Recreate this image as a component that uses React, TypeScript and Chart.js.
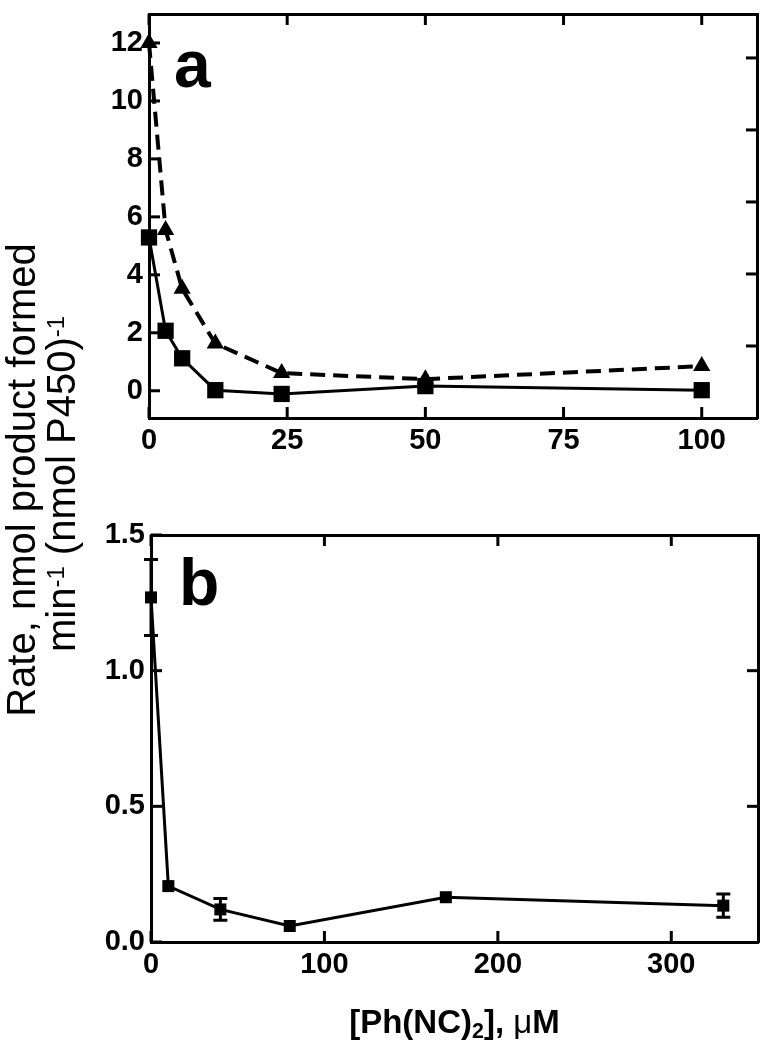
import React, { useEffect, useRef } from "react";
import { Chart, registerables } from "chart.js";

Chart.register(...registerables);

// ---------- Panel a data ----------
const X_A = [0, 3, 6, 12, 24, 50, 100];
const SQUARES_A = [5.29, 2.07, 1.12, 0.02, -0.11, 0.16, 0.02];
const TRIANGLES_A = [12.0, 5.55, 3.52, 1.63, 0.61, 0.4, 0.85];
const X_TICKS_A = [0, 25, 50, 75, 100];
const Y_TICKS_A = [0, 2, 4, 6, 8, 10, 12];
const RIGHT_TICKS_A = [1, 2, 3, 4, 5];

// ---------- Panel b data ----------
const X_B = [0, 10, 40, 80, 170, 330];
const Y_B = [1.27, 0.206, 0.12, 0.059, 0.165, 0.134];
const ERR_B = [0.14, 0, 0.04, 0, 0, 0.043];
const X_TICKS_B = [0, 100, 200, 300];
const Y_TICKS_B = [0, 0.5, 1.0, 1.5];
const RIGHT_TICKS_B = [0.5, 1.0];

const FONT_FAMILY = '"Liberation Sans", Arial, Helvetica, sans-serif';
const TICK_FONT = { family: FONT_FAMILY, size: 29, weight: "bold" as const };

const innerTicks = {
  id: "innerTicks",
  afterDraw(chart: any) {
    const { ctx, chartArea } = chart;
    const len = 11;
    ctx.save();
    ctx.strokeStyle = "#000";
    ctx.lineWidth = 3;
    ctx.lineCap = "butt";
    Object.values(chart.scales).forEach((s: any) => {
      s.ticks.forEach((t: any) => {
        const p = s.getPixelForValue(t.value);
        ctx.beginPath();
        if (s.position === "left") {
          ctx.moveTo(chartArea.left, p);
          ctx.lineTo(chartArea.left + len, p);
        } else if (s.position === "right") {
          ctx.moveTo(chartArea.right, p);
          ctx.lineTo(chartArea.right - len, p);
        } else if (s.position === "bottom") {
          ctx.moveTo(p, chartArea.bottom);
          ctx.lineTo(p, chartArea.bottom - len);
        } else if (s.position === "top") {
          ctx.moveTo(p, chartArea.top);
          ctx.lineTo(p, chartArea.top + len);
        }
        ctx.stroke();
      });
    });
    ctx.restore();
  },
};

const errorBars = {
  id: "errorBars",
  afterDatasetsDraw(chart: any) {
    const ctx = chart.ctx;
    ctx.save();
    ctx.strokeStyle = "#000";
    ctx.lineWidth = 3;
    chart.data.datasets.forEach((ds: any, i: number) => {
      const errs = ds.errorBars;
      if (!errs) return;
      const meta = chart.getDatasetMeta(i);
      const ys = chart.scales[meta.yAxisID];
      meta.data.forEach((pt: any, j: number) => {
        const e = errs[j];
        if (!e) return;
        const v = ds.data[j].y;
        const top = ys.getPixelForValue(v + e);
        const bot = ys.getPixelForValue(v - e);
        const cap = 7;
        ctx.beginPath();
        ctx.moveTo(pt.x, top);
        ctx.lineTo(pt.x, bot);
        ctx.moveTo(pt.x - cap, top);
        ctx.lineTo(pt.x + cap, top);
        ctx.moveTo(pt.x - cap, bot);
        ctx.lineTo(pt.x + cap, bot);
        ctx.stroke();
      });
    });
    ctx.restore();
  },
};

function frameAxis(
  position: string,
  min: number,
  max: number,
  tickVals: number[],
  size: number,
  labels: boolean,
  fmt?: (v: number) => string
) {
  const horizontal = position === "top" || position === "bottom";
  return {
    type: "linear" as const,
    position,
    min,
    max,
    display: true,
    afterBuildTicks: (s: any) => {
      s.ticks = tickVals.map((v) => ({ value: v }));
    },
    afterFit: (s: any) => {
      if (horizontal) s.height = size;
      else s.width = size;
      s.paddingTop = 0;
      s.paddingBottom = 0;
      s.paddingLeft = 0;
      s.paddingRight = 0;
    },
    ticks: {
      display: labels,
      font: TICK_FONT,
      color: "#000",
      padding: 6,
      maxRotation: 0,
      autoSkip: false,
      callback: (v: any) => (fmt ? fmt(Number(v)) : String(v)),
    },
    grid: { display: true, drawOnChartArea: false, drawTicks: false },
    border: { display: true, color: "#000", width: 3 },
  };
}

function PanelA() {
  const ref = useRef<HTMLCanvasElement>(null);
  useEffect(() => {
    const chart = new Chart(ref.current!, {
      type: "line",
      data: {
        datasets: [
          {
            data: X_A.map((x, i) => ({ x, y: SQUARES_A[i] })),
            borderColor: "#000",
            backgroundColor: "#000",
            borderWidth: 3,
            pointStyle: "rect",
            pointRadius: 11.5,
            pointBorderWidth: 0,
            pointBackgroundColor: "#000",
            tension: 0,
            clip: false,
          } as any,
          {
            data: X_A.map((x, i) => ({ x, y: TRIANGLES_A[i] })),
            borderColor: "#000",
            backgroundColor: "#000",
            borderWidth: 4,
            borderDash: [15, 8],
            pointStyle: "triangle",
            pointRadius: 10,
            pointBorderWidth: 0,
            pointBackgroundColor: "#000",
            tension: 0,
            clip: false,
          } as any,
        ],
      },
      options: {
        responsive: false,
        animation: false,
        devicePixelRatio: 1,
        layout: { autoPadding: false, padding: { left: 0, top: 14, right: 5, bottom: 0 } },
        plugins: { legend: { display: false }, tooltip: { enabled: false } },
        scales: {
          x: frameAxis("bottom", 0, 110, X_TICKS_A, 52, true),
          x2: frameAxis("top", 0, 110, X_TICKS_A, 0, false),
          y: frameAxis("left", -0.94, 13, Y_TICKS_A, 149, true),
          y2: frameAxis("right", 0, 5.61, RIGHT_TICKS_A, 0, false),
        } as any,
      },
      plugins: [innerTicks],
    });
    return () => chart.destroy();
  }, []);
  return (
    <canvas
      ref={ref}
      width={762}
      height={470}
      style={{ position: "absolute", left: 0, top: 0, width: 762, height: 470 }}
    />
  );
}

function PanelB() {
  const ref = useRef<HTMLCanvasElement>(null);
  useEffect(() => {
    const chart = new Chart(ref.current!, {
      type: "line",
      data: {
        datasets: [
          {
            data: X_B.map((x, i) => ({ x, y: Y_B[i] })),
            errorBars: ERR_B,
            borderColor: "#000",
            backgroundColor: "#000",
            borderWidth: 3,
            pointStyle: "rect",
            pointRadius: 8.5,
            pointBorderWidth: 0,
            pointBackgroundColor: "#000",
            tension: 0,
            clip: false,
          } as any,
        ],
      },
      options: {
        responsive: false,
        animation: false,
        devicePixelRatio: 1,
        layout: { autoPadding: false, padding: { left: 0, top: 65, right: 4, bottom: 0 } },
        plugins: { legend: { display: false }, tooltip: { enabled: false } },
        scales: {
          x: frameAxis("bottom", 0, 350, X_TICKS_B, 108, true),
          x2: frameAxis("top", 0, 350, X_TICKS_B, 0, false),
          y: frameAxis("left", 0, 1.5, Y_TICKS_B, 151, true, (v) => v.toFixed(1)),
          y2: frameAxis("right", 0, 1.5, RIGHT_TICKS_B, 0, false),
        } as any,
      },
      plugins: [innerTicks, errorBars],
    });
    return () => chart.destroy();
  }, []);
  return (
    <canvas
      ref={ref}
      width={762}
      height={580}
      style={{ position: "absolute", left: 0, top: 470, width: 762, height: 580 }}
    />
  );
}

export default function App() {
  const panelLetter: React.CSSProperties = {
    position: "absolute",
    fontFamily: FONT_FAMILY,
    fontWeight: "bold",
    fontSize: 66,
    lineHeight: "66px",
    color: "#000",
  };
  const supStyle: React.CSSProperties = {
    fontSize: "0.6em",
    verticalAlign: "0.45em",
    lineHeight: 0,
  };
  return (
    <div
      style={{
        position: "absolute",
        left: 0,
        top: 0,
        width: 762,
        height: 1050,
        background: "#fff",
        overflow: "hidden",
      }}
    >
      <PanelA />
      <PanelB />
      <div style={{ ...panelLetter, left: 174, top: 31 }}>a</div>
      <div style={{ ...panelLetter, left: 179, top: 549 }}>b</div>
      <div
        style={{
          position: "absolute",
          left: 41 - 350,
          top: 481 - 40,
          width: 700,
          height: 80,
          transform: "rotate(-90deg)",
          transformOrigin: "center center",
          textAlign: "center",
          fontFamily: FONT_FAMILY,
          fontSize: 40,
          lineHeight: "40px",
          color: "#000",
          whiteSpace: "nowrap",
        }}
      >
        <div style={{ position: "relative", left: 1 }}>Rate, nmol product formed</div>
        <div style={{ position: "relative", left: -3 }}>
          min<sup style={supStyle}>-1</sup> (nmol P450)<sup style={supStyle}>-1</sup>
        </div>
      </div>
      <div
        style={{
          position: "absolute",
          left: 151,
          width: 607,
          top: 1005,
          textAlign: "center",
          fontFamily: FONT_FAMILY,
          fontWeight: "bold",
          fontSize: 33,
          lineHeight: "33px",
          color: "#000",
          whiteSpace: "nowrap",
        }}
      >
        [Ph(NC)<sub style={{ fontSize: "0.65em", verticalAlign: "-0.25em", lineHeight: 0 }}>2</sub>],{" "}
        <span style={{ fontWeight: "normal" }}>μ</span>M
      </div>
    </div>
  );
}
